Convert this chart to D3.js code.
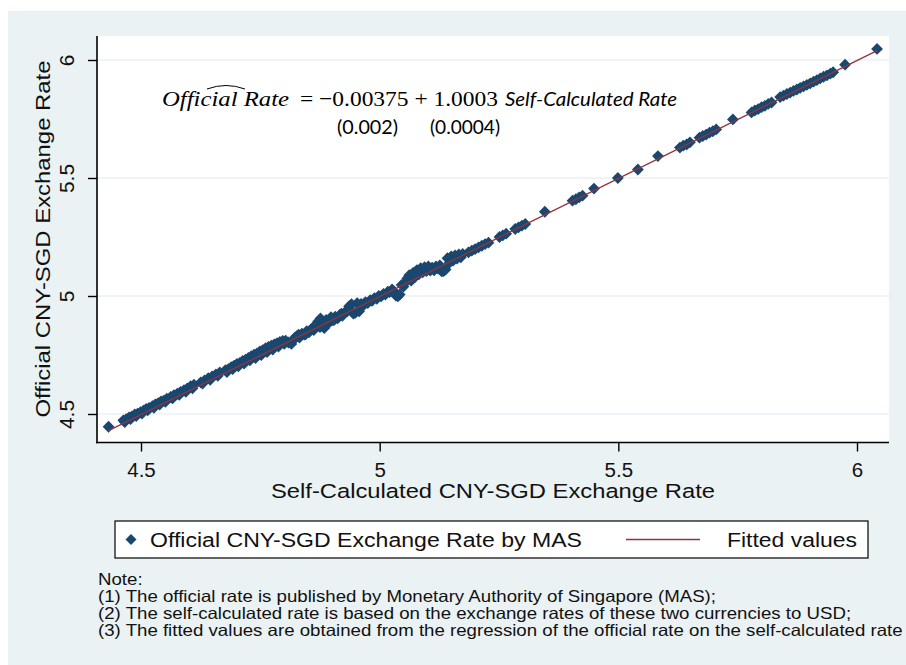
<!DOCTYPE html>
<html><head><meta charset="utf-8">
<script src="https://cdn.jsdelivr.net/npm/d3@7"></script>
<style>body{margin:0;background:#fff}svg{display:block}</style>
</head><body><svg id="c" width="906" height="665"></svg>
<script>
// ---- data ----
const selfRate = [
4.432,4.463,4.469,4.475,4.481,4.487,4.493,4.499,4.505,4.511,4.517,4.524,4.530,4.536,4.542,4.548,4.554,
4.562,4.569,4.576,4.583,4.590,4.597,4.604,4.611,
4.625,4.633,4.641,4.649,4.657,4.665,
4.677,4.683,4.689,4.695,4.701,4.707,4.713,4.719,4.725,4.731,4.737,4.743,4.749,4.755,4.761,4.767,4.773,4.779,4.785,4.791,4.797,4.803,4.809,4.815,4.819,4.823,
4.827,4.832,4.837,4.842,4.847,4.852,4.857,4.862,4.867,4.871,4.876,4.880,4.884,4.888,4.893,4.898,4.902,4.907,4.912,4.917,4.922,4.927,4.932,4.936,
4.941,4.945,4.949,4.953,4.957,4.961,4.966,4.970,4.975,4.980,4.984,4.989,4.994,4.998,5.003,5.008,5.012,5.017,5.021,5.026,5.030,5.034,5.038,5.042,
5.046,5.050,5.054,5.058,5.062,5.066,5.070,5.074,5.078,5.082,5.086,5.090,5.094,5.098,5.102,5.106,5.110,5.114,5.118,5.122,5.126,5.130,5.134,5.138,
5.142,5.146,5.150,5.154,5.158,5.162,5.166,5.170,5.174,
5.186,5.193,5.200,5.207,5.214,5.221,5.228,
5.251,5.258,5.265,
5.284,5.291,5.298,5.305,
5.346,
5.404,5.411,5.418,5.425,
5.449,5.499,5.541,5.583,
5.629,5.636,5.643,5.650,
5.670,5.677,5.684,5.691,5.698,5.705,
5.740,
5.779,5.786,5.793,5.800,5.807,5.814,5.821,
5.839,5.846,5.853,5.860,5.867,5.874,5.881,5.888,5.895,5.902,5.909,5.916,5.923,5.930,5.937,5.944,5.950,
5.975,6.042,
4.466,4.478,4.490,4.502,4.514,4.527,4.539,4.551,
4.566,4.580,4.594,4.608,
4.629,4.645,4.661,
4.680,4.692,4.704,4.716,4.728,4.740,4.752,4.764,4.776,4.788,4.800,
4.830,4.845,4.860,4.875,4.890,4.905,4.920];
const officialRate = [
4.446,4.473,4.478,4.486,4.490,4.498,4.502,4.508,4.514,4.522,4.526,4.533,4.541,4.546,4.553,4.557,4.565,
4.572,4.580,4.586,4.594,4.601,4.609,4.618,4.624,
4.634,4.642,4.652,4.659,4.668,4.676,
4.686,4.690,4.699,4.705,4.712,4.716,4.725,4.730,4.738,4.745,4.752,4.757,4.765,4.771,4.779,4.784,4.790,4.795,4.800,4.805,4.810,4.811,4.803,4.797,4.812,4.825,
4.831,4.824,4.840,4.836,4.851,4.846,4.860,4.856,4.874,4.892,4.905,4.872,4.864,4.899,4.885,4.910,4.897,4.913,4.905,4.921,4.916,4.931,4.935,4.957,
4.965,4.925,4.929,4.970,4.935,4.966,4.960,4.974,4.970,4.982,4.979,4.991,4.988,5.000,4.998,5.009,5.006,5.018,5.016,5.028,5.020,5.002,4.998,5.006,
5.047,5.040,5.058,5.075,5.088,5.065,5.098,5.080,5.110,5.092,5.118,5.100,5.122,5.105,5.125,5.108,5.120,5.109,5.125,5.116,5.130,5.104,5.106,5.112,
5.160,5.140,5.168,5.150,5.172,5.158,5.176,5.164,5.178,
5.185,5.192,5.199,5.206,5.213,5.220,5.226,
5.250,5.257,5.264,
5.284,5.291,5.298,5.305,
5.357,
5.404,5.410,5.418,5.425,
5.455,5.500,5.536,5.593,
5.629,5.637,5.642,5.651,
5.671,5.678,5.684,5.692,5.698,5.706,
5.748,
5.778,5.786,5.792,5.800,5.806,5.814,5.820,
5.843,5.849,5.856,5.862,5.869,5.875,5.882,5.888,5.895,5.901,5.908,5.915,5.922,5.929,5.935,5.942,5.948,
5.980,6.047,
4.466,4.478,4.491,4.502,4.515,4.526,4.540,4.551,
4.566,4.581,4.594,4.609,
4.629,4.645,4.662,
4.678,4.690,4.702,4.714,4.727,4.737,4.750,4.762,4.773,4.786,4.797,
4.836,4.838,4.866,4.868,4.896,4.899,4.925];
const fitX = [4.432, 6.042];
const fitY = [4.4296, 6.0400];
const xTicks = [4.5, 5, 5.5, 6];
const yTicks = [4.5, 5, 5.5, 6];
const xTitle = "Self-Calculated CNY-SGD Exchange Rate";
const yTitle = "Official CNY-SGD Exchange Rate";
const legendLabels = ["Official CNY-SGD Exchange Rate by MAS", "Fitted values"];
const noteLines = [
  "Note:",
  "(1) The official rate is published by Monetary Authority of Singapore (MAS);",
  "(2) The self-calculated rate is based on the exchange rates of these two currencies to USD;",
  "(3) The fitted values are obtained from the regression of the official rate on the self-calculated rate"
];

// ---- drawing ----
const BG = "#eaf2f3", NAVY = "#1a476f", MAROON = "#90353b";
const FONT = "'Liberation Sans', Arial, sans-serif";
const svg = d3.select("#c");
const P = {l: 97, r: 889, t: 36, b: 442.5};

svg.append("rect").attr("x", 8).attr("y", 11).attr("width", 898).attr("height", 654).attr("fill", BG);
svg.append("rect").attr("x", P.l).attr("y", P.t).attr("width", P.r - P.l).attr("height", P.b - P.t).attr("fill", "#fff");

const x = d3.scaleLinear().domain([4.5, 6]).range([141, 857]);
const y = d3.scaleLinear().domain([4.5, 6]).range([414, 60]);

// gridlines
svg.append("g").selectAll("line").data(yTicks).join("line")
  .attr("x1", P.l).attr("x2", P.r).attr("y1", d => y(d)).attr("y2", d => y(d))
  .attr("stroke", BG).attr("stroke-width", 1.3);

// points
const pts = selfRate.map((v, i) => [v, officialRate[i]]);
svg.append("g").selectAll("path").data(pts).join("path")
  .attr("d", "M0,-5.9L5.9,0L0,5.9L-5.9,0Z")
  .attr("transform", d => `translate(${x(d[0])},${y(d[1])})`)
  .attr("fill", NAVY);

// fitted line
svg.append("path").datum(fitX.map((v, i) => [v, fitY[i]]))
  .attr("d", d3.line().x(d => x(d[0])).y(d => y(d[1])))
  .attr("stroke", MAROON).attr("stroke-width", 1.3).attr("fill", "none");

// axes
const yAxis = svg.append("g").attr("transform", `translate(${P.l},0)`)
  .call(d3.axisLeft(y).tickValues(yTicks).tickSize(9).tickSizeOuter(0).tickFormat(d3.format("")));
yAxis.select(".domain").remove();
yAxis.selectAll(".tick line").attr("stroke", "#000").attr("stroke-width", 1.4);
yAxis.selectAll(".tick text").attr("x", null).attr("dy", null)
  .attr("transform", "translate(-23,0) rotate(-90)").attr("text-anchor", "middle")
  .attr("font-family", FONT).attr("font-size", 21).attr("fill", "#111");

const xAxis = svg.append("g").attr("transform", `translate(0,${P.b})`)
  .call(d3.axisBottom(x).tickValues(xTicks).tickSize(9).tickSizeOuter(0).tickFormat(d3.format("")));
xAxis.select(".domain").remove();
xAxis.selectAll(".tick line").attr("stroke", "#000").attr("stroke-width", 1.4);
xAxis.selectAll(".tick text").attr("y", 34.5).attr("dy", null)
  .attr("font-family", FONT).attr("font-size", 20.5).attr("fill", "#111");

svg.append("line").attr("x1", P.l).attr("x2", P.l).attr("y1", P.t).attr("y2", P.b + 0.7)
  .attr("stroke", "#000").attr("stroke-width", 1.6);
svg.append("line").attr("x1", P.l - 0.8).attr("x2", P.r).attr("y1", P.b).attr("y2", P.b)
  .attr("stroke", "#000").attr("stroke-width", 1.6);

// axis titles
svg.append("text").attr("x", 493).attr("y", 498).attr("text-anchor", "middle")
  .attr("font-family", FONT).attr("font-size", 20.5).attr("fill", "#111")
  .attr("textLength", 444).attr("lengthAdjust", "spacingAndGlyphs").text(xTitle);
svg.append("text").attr("transform", "translate(50,239) rotate(-90)").attr("text-anchor", "middle")
  .attr("font-family", FONT).attr("font-size", 21).attr("fill", "#111")
  .attr("textLength", 357).attr("lengthAdjust", "spacingAndGlyphs").text(yTitle);

// equation
svg.append("text").attr("x", 162).attr("y", 106)
  .attr("font-family", "'Liberation Serif', serif").attr("font-style", "italic").attr("font-size", 22)
  .attr("textLength", 127).attr("lengthAdjust", "spacingAndGlyphs").text("Official Rate");
svg.append("path").attr("d", "M207,89 Q226,82 245,89").attr("stroke", "#000").attr("stroke-width", 1).attr("fill", "none");
svg.append("text").attr("x", 300).attr("y", 106)
  .attr("font-family", "'Liberation Serif', serif").attr("font-size", 22)
  .attr("textLength", 198).attr("lengthAdjust", "spacingAndGlyphs").text("= \u22120.00375 + 1.0003");
svg.append("text").attr("x", 505).attr("y", 106)
  .attr("font-family", "Lato, sans-serif").attr("font-style", "italic").attr("font-size", 20)
  .attr("textLength", 172).attr("lengthAdjust", "spacingAndGlyphs").text("Self-Calculated Rate");
svg.append("text").attr("x", 337).attr("y", 134)
  .attr("font-family", "Lato, sans-serif").attr("font-size", 19)
  .attr("textLength", 61).attr("lengthAdjust", "spacingAndGlyphs").text("(0.002)");
svg.append("text").attr("x", 430).attr("y", 134)
  .attr("font-family", "Lato, sans-serif").attr("font-size", 19)
  .attr("textLength", 70).attr("lengthAdjust", "spacingAndGlyphs").text("(0.0004)");

// legend
const lg = svg.append("g");
lg.append("rect").attr("x", 115).attr("y", 521).attr("width", 753).attr("height", 37)
  .attr("fill", "#fff").attr("stroke", "#000").attr("stroke-width", 1.2);
lg.append("path").attr("d", "M0,-5.5L5.5,0L0,5.5L-5.5,0Z").attr("transform", "translate(131,539.5)").attr("fill", NAVY);
lg.append("text").attr("x", 150).attr("y", 547).attr("font-family", FONT).attr("font-size", 20).attr("fill", "#111")
  .attr("textLength", 432).attr("lengthAdjust", "spacingAndGlyphs").text(legendLabels[0]);
lg.append("line").attr("x1", 626).attr("x2", 700).attr("y1", 539.5).attr("y2", 539.5)
  .attr("stroke", MAROON).attr("stroke-width", 1.5);
lg.append("text").attr("x", 727).attr("y", 547).attr("font-family", FONT).attr("font-size", 20).attr("fill", "#111")
  .attr("textLength", 130).attr("lengthAdjust", "spacingAndGlyphs").text(legendLabels[1]);

// notes (horizontally widened like the original rendering)
svg.append("g").selectAll("text").data(noteLines).join("text")
  .attr("x", 98).attr("y", (d, i) => 585 + i * 17)
  .attr("font-family", FONT).attr("font-size", 16.5).attr("fill", "#111")
  .text(d => d)
  .each(function() {
    const w = this.getComputedTextLength();
    d3.select(this).attr("textLength", w * 1.13).attr("lengthAdjust", "spacingAndGlyphs");
  });
</script></body></html>
